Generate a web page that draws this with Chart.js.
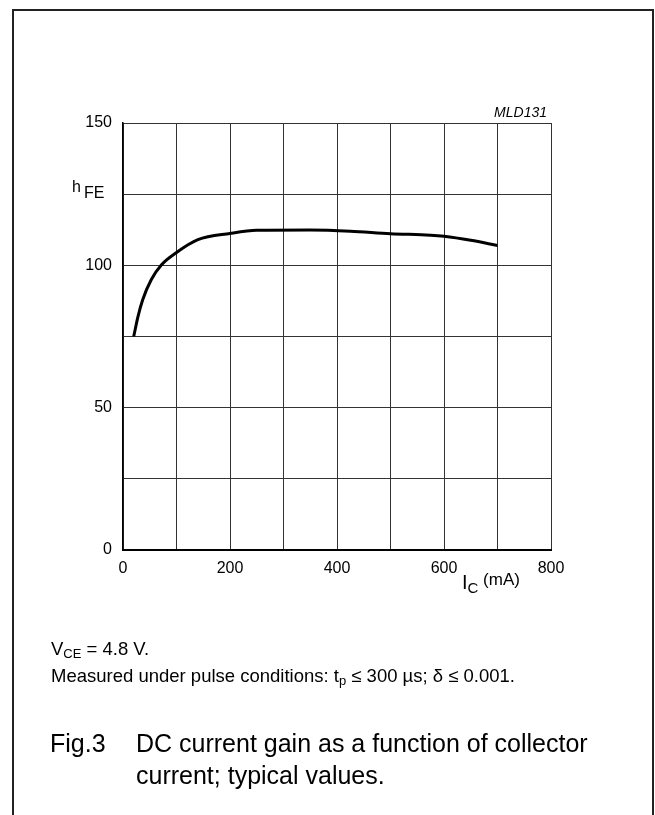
<!DOCTYPE html>
<html>
<head>
<meta charset="utf-8">
<script src="https://cdn.jsdelivr.net/npm/chart.js@4"></script>
<style>
  html, body { margin: 0; padding: 0; background: #fff; }
  canvas { display: block; }
</style>
</head>
<body>
<canvas id="chart" width="655" height="815"></canvas>
<script>
// ── Data ───────────────────────────────────────────────────
const IC_MA = [20, 28, 37, 53, 72, 100, 140, 200, 250, 350, 425, 500, 575, 600, 650, 700];
const HFE   = [75, 82, 88, 95, 100.2, 104.5, 109, 111.2, 112.3, 112.4, 112, 111.1, 110.6, 110.2, 108.8, 107];

const X_LABELS = [0, 200, 400, 600, 800];
const Y_LABELS = [0, 50, 100, 150];

const FONT = "'Liberation Sans', Arial, Helvetica, sans-serif";

// ── Text helper: runs of text with optional baseline offset ──
function drawRuns(ctx, x, y, runs) {
  runs.forEach(r => {
    ctx.font = (r.italic ? 'italic ' : '') + r.size + 'px ' + FONT;
    ctx.fillText(r.t, x, y + (r.dy || 0));
    x += ctx.measureText(r.t).width;
  });
}

// ── Frame + annotations plugin ────────────────────────────
const annotations = {
  id: 'annotations',
  beforeDraw(chart) {
    const ctx = chart.ctx;
    ctx.save();
    ctx.strokeStyle = '#222';
    ctx.lineWidth = 2;
    ctx.beginPath();
    ctx.moveTo(13, 830);
    ctx.lineTo(13, 10);
    ctx.lineTo(653, 10);
    ctx.lineTo(653, 830);
    ctx.stroke();
    ctx.restore();
  },
  afterDraw(chart) {
    const ctx = chart.ctx;
    const area = chart.chartArea;
    ctx.save();
    ctx.fillStyle = '#000';
    ctx.textBaseline = 'alphabetic';

    // figure code, top right
    ctx.textAlign = 'right';
    ctx.font = 'italic 14px ' + FONT;
    ctx.fillText('MLD131', area.right - 4, 117);
    ctx.textAlign = 'left';

    // y axis title
    drawRuns(ctx, 72, 192, [{ t: 'h', size: 16 }]);
    drawRuns(ctx, 84, 198, [{ t: 'FE', size: 16 }]);

    // x axis title
    drawRuns(ctx, 462, 589, [
      { t: 'I', size: 20 },
      { t: 'C', size: 15, dy: 4 },
      { t: ' (mA)', size: 17, dy: -4 },
    ]);

    // notes
    drawRuns(ctx, 51, 655, [
      { t: 'V', size: 18.5 },
      { t: 'CE', size: 13, dy: 3 },
      { t: ' = 4.8 V.', size: 18.5 },
    ]);
    drawRuns(ctx, 51, 682, [
      { t: 'Measured under pulse conditions: t', size: 18.5 },
      { t: 'p', size: 13, dy: 3 },
      { t: ' \u2264 300 \u00b5s; \u03b4 \u2264 0.001.', size: 18.5 },
    ]);

    // caption
    ctx.font = '25px ' + FONT;
    ctx.fillText('Fig.3', 50, 752);
    ctx.fillText('DC current gain as a function of collector', 136, 752);
    ctx.fillText('current; typical values.', 136, 784);
    ctx.restore();
  },
};

new Chart(document.getElementById('chart'), {
  type: 'line',
  data: {
    datasets: [{
      data: IC_MA.map((x, i) => ({ x, y: HFE[i] })),
      borderColor: '#000',
      borderWidth: 3,
      pointRadius: 0,
      fill: false,
      cubicInterpolationMode: 'monotone',
    }],
  },
  options: {
    responsive: false,
    animation: false,
    devicePixelRatio: 1,
    layout: { padding: { left: 0, top: 123, right: 104, bottom: 0 } },
    plugins: { legend: { display: false }, tooltip: { enabled: false } },
    scales: {
      x: {
        type: 'linear',
        min: 0,
        max: 800,
        afterFit: s => { s.height = 265; },
        ticks: {
          stepSize: 100,
          autoSkip: false,
          maxRotation: 0,
          padding: 9,
          color: '#000',
          font: { family: FONT, size: 16 },
          callback: v => X_LABELS.includes(v) ? String(v) : '',
        },
        grid: { color: '#333', lineWidth: 1, drawTicks: false },
        border: { color: '#000', width: 2 },
      },
      y: {
        min: 0,
        max: 150,
        afterFit: s => { s.width = 123; },
        ticks: {
          stepSize: 25,
          autoSkip: false,
          padding: 11,
          color: '#000',
          font: { family: FONT, size: 16 },
          callback: v => Y_LABELS.includes(v) ? String(v) : '',
        },
        grid: { color: '#333', lineWidth: 1, drawTicks: false },
        border: { color: '#000', width: 1.5 },
      },
    },
  },
  plugins: [annotations],
});
</script>
</body>
</html>
